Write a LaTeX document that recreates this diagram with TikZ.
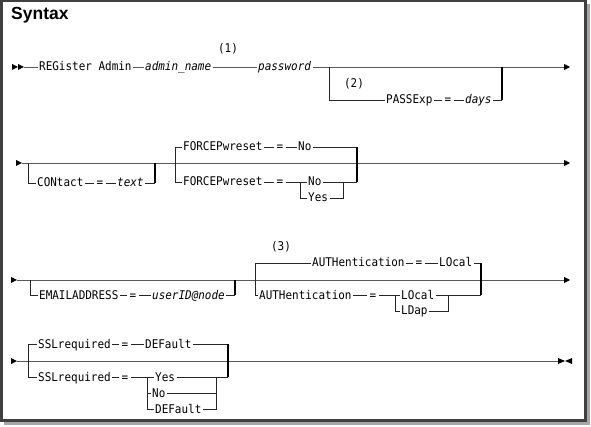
\documentclass[tikz,border=0pt]{standalone}
\usepackage{fontspec}
\newfontfamily\synfont[FakeStretch=0.913]{DejaVu Sans Mono}
\newfontfamily\titlefont{Liberation Sans}
\usetikzlibrary{arrows.meta}
\begin{document}
\begin{tikzpicture}[x=1pt,y=-1pt,
  lbl/.style={font={\synfont\fontsize{12pt}{14pt}\selectfont}, inner sep=0pt, inner xsep=1.5pt, text height=9pt, text depth=1pt, anchor=west},
  eqn/.style={lbl, anchor=center, inner xsep=2.5pt},
  note/.style={font={\synfont\fontsize{12pt}{14pt}\selectfont}, inner sep=0pt, anchor=center},
  hl/.style={draw=black!65, line width=0.9pt},
  br/.style={draw=black!85, line width=0.9pt},
  rb/.style={draw=black, line width=1.7pt},
  tip/.style={-{Triangle[length=6pt,width=6pt,color=black]}}]
\useasboundingbox (0,0) rectangle (591,427);
% frame with shadow
\fill[black!35] (4,4) rectangle (590,425);
\draw[fill=white, draw=black!75, line width=2.5pt] (1.25,1.25) rectangle (585.5,420.5);
\node[anchor=base west, font={\titlefont\bfseries\fontsize{17.5pt}{20pt}\selectfont}, inner sep=0pt] (title) at (11,19.5) {Syntax};

% ---------- Row 1 ----------
\fill (12,64) -- (18,67) -- (12,70) -- cycle;
\fill (18,64) -- (24,67) -- (18,70) -- cycle;
\coordinate (r1s) at (24,67);
\coordinate (r1e) at (570,67);
\node[lbl] (reg) at (37.5,67) {REGister Admin};
\node[lbl] (adm) at (143.5,67) {\itshape admin\_name};
\node[lbl] (pwd) at (256.5,67) {\itshape password};
\node[note] (n1) at (228,49) {(1)};
\draw[hl] (r1s) -- (reg.west) (reg.east) -- (adm.west) (adm.east) -- (pwd.west);
\draw[hl,tip] (pwd.east) -- (r1e);
\coordinate (b1a) at (329,67);
\coordinate (b1b) at (502,67);
\node[lbl] (pe) at (384.5,100) {PASSExp};
\node[eqn] (e1) at (448,100) {=};
\node[lbl] (days) at (463.5,100) {\itshape days};
\node[note] (n2) at (354,84) {(2)};
\draw[br] (b1a) -- (b1a |- pe) -- (pe.west) (pe.east) -- (e1.west) (e1.east) -- (days.west) (days.east) -- (b1b |- days);
\draw[rb] (b1b |- days) -- (b1b);

% ---------- Row 2 ----------
\fill (16,160) -- (22,163) -- (16,166) -- cycle;
\coordinate (r2s) at (22,163);
\coordinate (r2e) at (570,163);
\draw[hl,tip] (r2s) -- (r2e);
\coordinate (c2a) at (28,163);
\coordinate (c2b) at (155,163);
\node[lbl] (con) at (35.5,183) {CONtact};
\node[eqn] (e2) at (100,183) {=};
\node[lbl] (txt) at (115.5,183) {\itshape text};
\draw[br] (c2a) -- (c2a |- con) -- (con.west) (con.east) -- (e2.west) (e2.east) -- (txt.west) (txt.east) -- (c2b |- txt);
\draw[rb] (c2b |- txt) -- (c2b);
\coordinate (f2a) at (175,147);
\coordinate (f2b) at (357,147);
\node[lbl] (fp1) at (181.5,147) {FORCEPwreset};
\node[eqn] (e3) at (280,147) {=};
\node[lbl] (no1) at (296.5,147) {No};
\node[lbl] (fp2) at (181.5,182) {FORCEPwreset};
\node[eqn] (e4) at (280,182) {=};
\node[lbl] (no2) at (306.5,182) {No};
\node[lbl] (yes2) at (306.5,198) {Yes};
\coordinate (s2a) at (300,182);
\coordinate (s2b) at (343,182);
\draw[br] (fp1.west) -- (f2a) -- (f2a |- fp2) -- (fp2.west);
\draw[br] (fp1.east) -- (e3.west) (e3.east) -- (no1.west) (no1.east) -- (f2b);
\draw[rb] (f2b) -- (f2b |- fp2);
\draw[br] (fp2.east) -- (e4.west) (e4.east) -- (no2.west) (no2.east) -- (f2b |- fp2);
\draw[br] (s2a) -- (s2a |- yes2) -- (yes2.west) (yes2.east) -- (s2b |- yes2) -- (s2b);

% ---------- Row 3 ----------
\fill (11,277) -- (17,280) -- (11,283) -- cycle;
\coordinate (r3s) at (17,280);
\coordinate (r3e) at (570,280);
\draw[hl,tip] (r3s) -- (r3e);
\coordinate (m3a) at (30,280);
\coordinate (m3b) at (235,280);
\node[lbl] (em) at (37.5,295) {EMAILADDRESS};
\node[eqn] (e5) at (133,295) {=};
\node[lbl] (uid) at (150.5,295) {\itshape userID@node};
\draw[br] (m3a) -- (m3a |- em) -- (em.west) (em.east) -- (e5.west) (e5.east) -- (uid.west) (uid.east) -- (m3b |- uid);
\draw[rb] (m3b |- uid) -- (m3b);
\coordinate (a3a) at (255,263);
\coordinate (a3b) at (481,263);
\node[note] (n3) at (281,247) {(3)};
\node[lbl] (au1) at (310.5,263) {AUTHentication};
\node[eqn] (e6) at (419,263) {=};
\node[lbl] (lo1) at (437.5,263) {LOcal};
\node[lbl] (au2) at (257.5,295) {AUTHentication};
\node[eqn] (e7) at (373,295) {=};
\node[lbl] (lo2) at (399.5,295) {LOcal};
\node[lbl] (ld) at (399.5,311) {LDap};
\coordinate (s3a) at (395,295);
\coordinate (s3b) at (448,295);
\draw[br] (au1.west) -- (a3a) -- (a3a |- au2) -- (au2.west);
\draw[br] (au1.east) -- (e6.west) (e6.east) -- (lo1.west) (lo1.east) -- (a3b);
\draw[rb] (a3b) -- (a3b |- au2);
\draw[br] (au2.east) -- (e7.west) (e7.east) -- (lo2.west) (lo2.east) -- (a3b |- au2);
\draw[br] (s3a) -- (s3a |- ld) -- (ld.west) (ld.east) -- (s3b |- ld) -- (s3b);

% ---------- Row 4 ----------
\fill (11,358) -- (17,361) -- (11,364) -- cycle;
\coordinate (r4s) at (17,361);
\coordinate (r4e) at (558,361);
\draw[hl] (r4s) -- (r4e);
\fill (558,358) -- (565,361) -- (558,364) -- cycle;
\fill (572,358) -- (565,361) -- (572,364) -- cycle;
\coordinate (g4a) at (28,344);
\coordinate (g4b) at (228,344);
\node[lbl] (ssl1) at (36.5,344) {SSLrequired};
\node[eqn] (e8) at (125,344) {=};
\node[lbl] (def1) at (143.5,344) {DEFault};
\node[lbl] (ssl2) at (36.5,377) {SSLrequired};
\node[eqn] (e9) at (125,377) {=};
\node[lbl] (yes4) at (153.5,377) {Yes};
\node[lbl] (no4) at (150.5,393) {No};
\node[lbl] (def4) at (153.5,409) {DEFault};
\coordinate (s4a) at (147,377);
\coordinate (s4b) at (216,377);
\draw[br] (ssl1.west) -- (g4a) -- (g4a |- ssl2) -- (ssl2.west);
\draw[br] (ssl1.east) -- (e8.west) (e8.east) -- (def1.west) (def1.east) -- (g4b);
\draw[rb] (g4b) -- (g4b |- ssl2);
\draw[br] (ssl2.east) -- (e9.west) (e9.east) -- (yes4.west) (yes4.east) -- (g4b |- ssl2);
\draw[br] (s4a) -- (s4a |- def4) -- (def4.west);
\draw[br] (s4a |- no4) -- (no4.west) (no4.east) -- (s4b |- no4);
\draw[br] (def4.east) -- (s4b |- def4) -- (s4b);
\end{tikzpicture}
\end{document}
